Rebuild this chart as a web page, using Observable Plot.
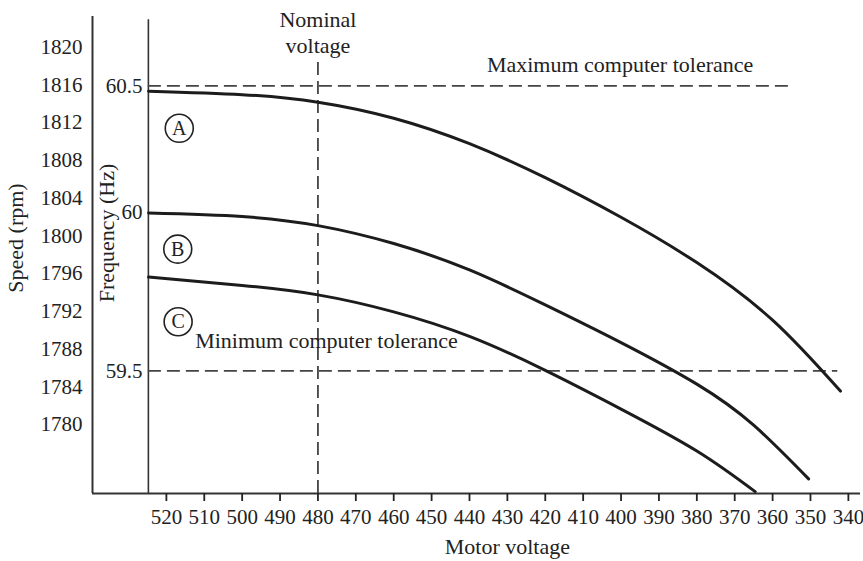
<!DOCTYPE html>
<html><head><meta charset="utf-8">
<script src="https://cdn.jsdelivr.net/npm/d3@7"></script>
<script src="https://cdn.jsdelivr.net/npm/@observablehq/plot@0.6"></script>
<style>
html,body{margin:0;padding:0;background:#fff;}
#chart svg{display:block;}
</style>
</head><body><div id="chart"></div>
<script>
// ---- data ----
const voltageTicks = [520,510,500,490,480,470,460,450,440,430,420,410,400,390,380,370,360,350,340];
const speedTicks = [1820,1816,1812,1808,1804,1800,1796,1792,1788,1784,1780];
const freqTickLabels = ["60.5","60","59.5"];
const freqTickSpeed = [1815.9, 1802.5, 1785.7]; // where each frequency tick sits on the speed scale

const curveAVoltage = [524.7, 500, 480, 460, 440, 420, 400, 380, 360, 342.1];
const curveASpeed   = [1815.34, 1814.97, 1814.17, 1812.47, 1809.77, 1806.17, 1801.97, 1797.17, 1791.07, 1783.55];

const curveBVoltage = [524.7, 500, 480, 460, 440, 420, 400, 380, 365, 350.5];
const curveBSpeed   = [1802.42, 1802.05, 1801.09, 1799.19, 1796.39, 1792.69, 1788.69, 1784.29, 1779.94, 1774.25];

const curveCVoltage = [524.7, 500, 480, 460, 440, 420, 400, 380, 364.6];
const curveCSpeed   = [1795.64, 1794.75, 1793.75, 1791.95, 1789.35, 1785.75, 1781.65, 1777.21, 1772.9];

const curveNames = ["A","B","C"];
const curveLabelVoltage = [516.6, 517.0, 516.9];
const curveLabelSpeed = [1811.4, 1798.6, 1790.9];

const toleranceNames = ["Maximum computer tolerance","Minimum computer tolerance"];
const toleranceSpeed = [1815.9, 1785.7];
const toleranceFromVoltage = [524.75, 524.75];
const toleranceToVoltage = [355.8, 342.8];
const toleranceLabelVoltage = [435.4, 512.4];
const toleranceLabelSpeed = [1817.35, 1788.16];

const nominalVoltage = 480;
const nominalTopSpeed = 1818.7;
const innerAxisVoltage = 524.75;
const innerAxisTopSpeed = 1822.9;

const xDomain = [539.5, 336.8];
const yDomain = [1772.7, 1823.25];

// ---- build tables ----
const curves = [
  ...curveAVoltage.map((v,i)=>({curve:"A", v, s:curveASpeed[i]})),
  ...curveBVoltage.map((v,i)=>({curve:"B", v, s:curveBSpeed[i]})),
  ...curveCVoltage.map((v,i)=>({curve:"C", v, s:curveCSpeed[i]}))
];
const labels = curveNames.map((n,i)=>({n, v:curveLabelVoltage[i], s:curveLabelSpeed[i]}));
const tolerances = toleranceNames.map((n,i)=>({n, s:toleranceSpeed[i], x1:toleranceFromVoltage[i], x2:toleranceToVoltage[i], lv:toleranceLabelVoltage[i], ls:toleranceLabelSpeed[i]}));
const freqTicks = freqTickLabels.map((t,i)=>({t, s:freqTickSpeed[i]}));

const ink = "#1c1c1c";
const font = "'Liberation Serif', 'DejaVu Serif', serif";

const chart = Plot.plot({
  width: 863, height: 561,
  marginLeft: 92, marginRight: 3, marginTop: 16, marginBottom: 68,
  style: {fontFamily: font, fontSize: "21px", color: "#222", background: "#fff", overflow: "visible"},
  x: {domain: xDomain},
  y: {domain: yDomain},
  marks: [
    // frame lines
    Plot.ruleY([yDomain[0]], {stroke: "#333", strokeWidth: 2}),
    Plot.ruleX([xDomain[0]], {stroke: "#333", strokeWidth: 2}),
    Plot.ruleX([innerAxisVoltage], {y1: yDomain[0], y2: innerAxisTopSpeed, stroke: "#333", strokeWidth: 1.6}),
    // axes
    Plot.axisX(voltageTicks, {tickSize: 8, tickPadding: 8, strokeWidth: 1.8, label: null, fontSize: 21, tickFormat: d => String(d)}),
    Plot.axisY(speedTicks, {anchor: "left", tickSize: 0, tickPadding: 10, label: null, fontSize: 21, tickFormat: d => String(d)}),
    Plot.text(freqTicks, {x: innerAxisVoltage, y: "s", text: "t", dx: -6, textAnchor: "end", fontSize: 21}),
    // axis titles
    Plot.text(["Speed (rpm)"], {frameAnchor: "left", dx: -77, dy: -17, rotate: -90, textAnchor: "middle", fontSize: 22}),
    Plot.text(["Frequency (Hz)"], {frameAnchor: "left", dx: 14, dy: -22, rotate: -90, textAnchor: "middle", fontSize: 22}),
    Plot.text(["Motor voltage"], {x: 430, frameAnchor: "bottom", dy: 60, lineAnchor: "bottom", fontSize: 22}),
    // reference dashed lines
    Plot.ruleY(tolerances, {y: "s", x1: "x1", x2: "x2", stroke: "#444", strokeWidth: 1.8, strokeDasharray: "13,6"}),
    Plot.ruleX([nominalVoltage], {y1: yDomain[0], y2: nominalTopSpeed, stroke: "#444", strokeWidth: 1.8, strokeDasharray: "13,6"}),
    Plot.text(tolerances, {x: "lv", y: "ls", text: "n", textAnchor: "start", lineAnchor: "bottom", fontSize: 22}),
    Plot.text(["Nominal\nvoltage"], {x: nominalVoltage, frameAnchor: "top", dy: -7, lineAnchor: "top", lineHeight: 1.15, fontSize: 22}),
    // curves
    Plot.line(curves, {x: "v", y: "s", z: "curve", stroke: ink, strokeWidth: 3, curve: "natural"}),
    // circled labels
    Plot.dot(labels, {x: "v", y: "s", r: 14, stroke: "#222", strokeWidth: 1.6, fill: "#fff"}),
    Plot.text(labels, {x: "v", y: "s", text: "n", fontSize: 20})
  ]
});
document.getElementById("chart").appendChild(chart);
</script>
</body></html>
